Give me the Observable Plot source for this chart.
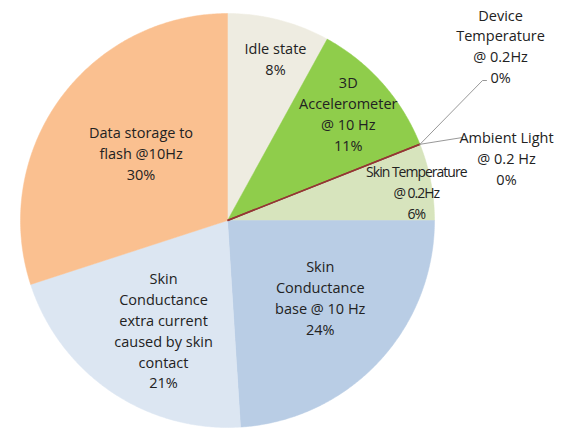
<!DOCTYPE html>
<html>
<head>
<meta charset="utf-8">
<script src="https://cdn.jsdelivr.net/npm/d3@7"></script>
<script src="https://cdn.jsdelivr.net/npm/@observablehq/plot@0.6"></script>
<style>
  html, body { margin: 0; padding: 0; background: #fff; }
  #chart { width: 573px; height: 432px; }
</style>
</head>
<body>
<div id="chart"></div>
<script>
// ---- data ----
const categories = [
  "Idle state",
  "3D Accelerometer @ 10 Hz",
  "Device Temperature @ 0.2Hz",
  "Ambient Light @ 0.2 Hz",
  "Skin Temperature @ 0.2Hz",
  "Skin Conductance base @ 10 Hz",
  "Skin Conductance extra current caused by skin contact",
  "Data storage to flash @10Hz"
];
const values = [8, 11, 0, 0, 6, 24, 21, 30];
const labelText = [
  "Idle state\n8%",
  "3D\nAccelerometer\n@ 10 Hz\n11%",
  "Device\nTemperature\n@ 0.2Hz\n0%",
  "Ambient Light\n@ 0.2 Hz\n0%",
  "Skin Temperature\n@ 0.2Hz\n6%",
  "Skin\nConductance\nbase @ 10 Hz\n24%",
  "Skin\nConductance\nextra current\ncaused by skin\ncontact\n21%",
  "Data storage to\nflash @10Hz\n30%"
];

// ---- styles / layout ----
const colors = ["#eeece1", "#8fcd4b", "#943634", "#943634", "#d7e4bd", "#b9cde5", "#dce6f2", "#fac090"];
const R = 207;                       // pie radius (plot units = px)
const labelAngle  = [16.4, 48.2, 57.3, 77.3, 81.3, 129.4, 210.4, 308.4];  // degrees, clockwise from 12 o'clock
const labelRadius = [170, 162, 324.5, 286, 191, 120, 126.4, 110.3];
const condensed = [false, false, false, false, true, false, false, false];
const leaderElbows = { 2: [[255, -140], [259, -140]], 3: [[235, -83]] };

// ---- geometry from data ----
const pie = d3.pie().sort(null).value(d => d)(values);
const rad = deg => deg * Math.PI / 180;
const polar = (a, r) => [r * Math.sin(a), -r * Math.cos(a)];

const slicePts = [];
pie.forEach((p, i) => {
  if (p.endAngle - p.startAngle <= 0) return;
  const steps = Math.max(2, Math.ceil((p.endAngle - p.startAngle) / rad(0.5)));
  slicePts.push({k: i, x: 0, y: 0, c: colors[i]});
  for (let s = 0; s <= steps; s++) {
    const a = p.startAngle + (p.endAngle - p.startAngle) * s / steps;
    const [x, y] = polar(a, R);
    slicePts.push({k: i, x, y, c: colors[i]});
  }
  slicePts.push({k: i, x: 0, y: 0, c: colors[i]});
});

const zeroLines = [];
pie.forEach((p, i) => {
  if (values[i] === 0) {
    const [x, y] = polar(p.startAngle, R);
    zeroLines.push({k: i, x1: 0, y1: 0, x2: x, y2: y});
  }
});

const leaders = [];
Object.entries(leaderElbows).forEach(([i, pts]) => {
  const [x0, y0] = polar(pie[i].startAngle, R);
  leaders.push({k: +i, x: x0, y: y0});
  pts.forEach(([x, y]) => leaders.push({k: +i, x, y}));
});

const labels = labelText.map((t, i) => {
  const [x, y] = polar(rad(labelAngle[i]), labelRadius[i]);
  return {t, x, y, cond: condensed[i]};
});

const chart = Plot.plot({
  width: 573,
  height: 432,
  margin: 0,
  x: {domain: [-227, 346], axis: null},
  y: {domain: [-220, 212], range: [0, 432], axis: null},
  color: {type: "identity"},
  style: {background: "#ffffff"},
  marks: [
    Plot.line(slicePts, {x: "x", y: "y", z: "k", fill: "c", stroke: "c", strokeWidth: 0.5, curve: "linear"}),
    Plot.link(zeroLines, {x1: "x1", y1: "y1", x2: "x2", y2: "y2", stroke: "#943634", strokeWidth: 1.6}),
    Plot.line(leaders, {x: "x", y: "y", z: "k", stroke: "#8c8c8c", strokeWidth: 0.9}),
    Plot.text(labels.filter(d => !d.cond), {x: "x", y: "y", text: "t", fill: "#222222",
      fontSize: 14.5, lineHeight: 1.44, fontFamily: "Open Sans"}),
    Plot.text(labels.filter(d => d.cond), {x: "x", y: "y", text: "t", fill: "#222222",
      fontSize: 14, lineHeight: 1.5, fontFamily: "Open Sans"})
  ]
});
// condensed letter spacing for the narrow in-slice label
d3.select(chart).selectAll("text").filter(function() {
  return this.textContent.startsWith("Skin Temperature");
}).attr("letter-spacing", "-1px");
document.getElementById("chart").appendChild(chart);
</script>
</body>
</html>
